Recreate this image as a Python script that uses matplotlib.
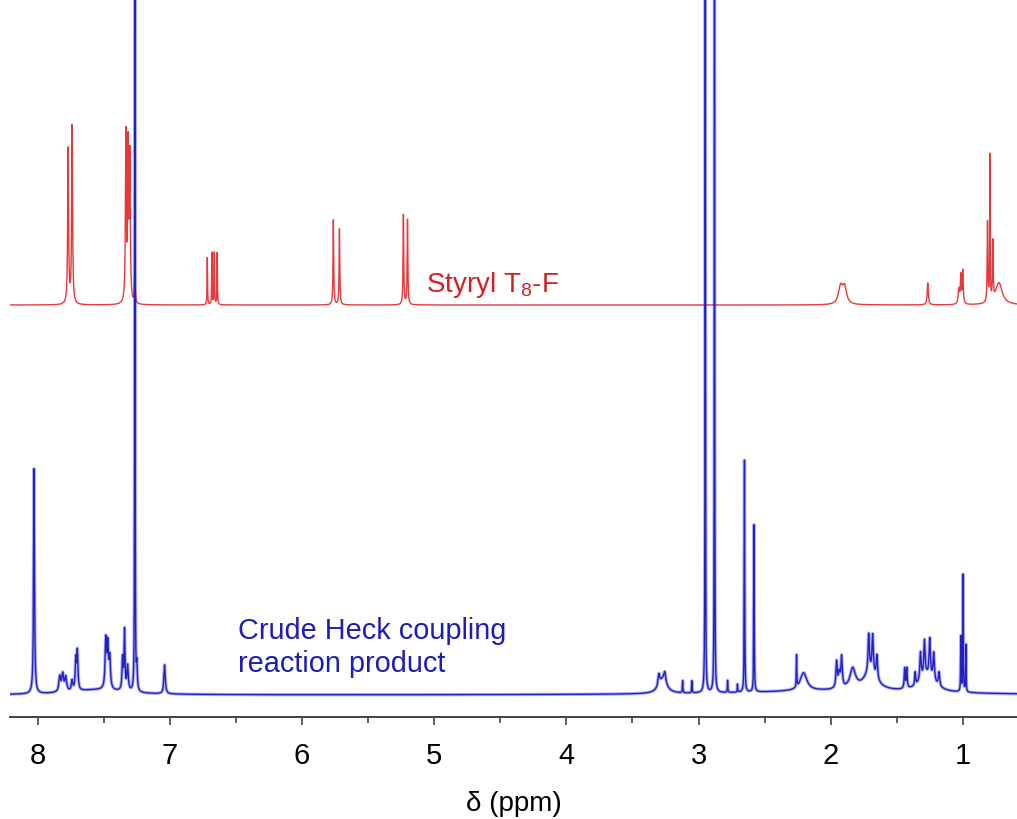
import matplotlib.pyplot as plt
import numpy as np

# 1H NMR: styryl T8-F (red, offset) vs. crude Heck coupling product (blue)

# peak tables: shift (ppm), height (arbitrary, ~px), half width (ppm)
red_ppm = [7.770, 7.740, 7.333, 7.316, 7.303, 7.265,
           6.717, 6.682, 6.664, 6.642, 5.763, 5.717, 5.233, 5.202,
           1.925, 1.895, 1.265, 1.030, 1.015, 1.000,
           0.813, 0.795, 0.773, 0.727]
red_height = [155, 178, 168, 152, 143, 35,
              47, 52, 52, 52, 85, 76, 90, 85,
              17, 17, 22, 15, 28, 33,
              80, 145, 58, 22]
red_width = [0.004, 0.004, 0.004, 0.004, 0.004, 0.003,
             0.002, 0.002, 0.002, 0.002, 0.003, 0.003, 0.003, 0.003,
             0.018, 0.018, 0.005, 0.006, 0.004, 0.004,
             0.003, 0.002, 0.003, 0.03]

blue_ppm = [8.028, 7.833, 7.811, 7.788, 7.740, 7.712, 7.700,
            7.485, 7.470, 7.455, 7.358, 7.343, 7.320, 7.265, 7.250, 7.040, 7.55,
            3.300, 3.270, 3.255, 3.120, 3.050, 2.949, 2.879, 2.780, 2.705,
            2.652, 2.580, 2.258, 2.205, 1.955, 1.935, 1.917, 1.833,
            1.712, 1.682, 1.650, 1.700, 1.440, 1.424, 1.360,
            1.320, 1.290, 1.250, 1.220, 1.180, 1.270,
            1.015, 0.998, 0.977, 2.0]
blue_height = [225, 15, 17, 14, 10, 30, 38,
               48, 42, 30, 32, 59, 25, 1500, 25, 29, 5,
               12, 14, 10, 12, 12, 1500, 1500, 12, 8,
               232, 167, 32, 18, 26, 14, 30, 20,
               38, 38, 24, 18, 20, 20, 13,
               28, 36, 38, 28, 14, 16,
               55, 117, 47, 4]
blue_width = [0.004, 0.008, 0.008, 0.008, 0.006, 0.005, 0.005,
              0.006, 0.006, 0.006, 0.005, 0.004, 0.006, 0.0012, 0.004, 0.006, 0.25,
              0.008, 0.035, 0.008, 0.002, 0.002, 0.0012, 0.0012, 0.002, 0.002,
              0.002, 0.002, 0.002, 0.03, 0.006, 0.008, 0.006, 0.025,
              0.006, 0.006, 0.006, 0.06, 0.004, 0.004, 0.004,
              0.006, 0.006, 0.006, 0.006, 0.006, 0.07,
              0.002, 0.002, 0.002, 0.8]

red_offset = 390
xlim = (8.21, 0.59)


def spectrum(x, ppm, height, width):
    y = np.zeros_like(x)
    for p, h, w in zip(ppm, height, width):
        y += h * w**2 / ((x - p)**2 + w**2)
    return y


plt.rcParams['font.family'] = ['Liberation Sans', 'DejaVu Sans']
plt.rcParams['mathtext.fontset'] = 'custom'
plt.rcParams['mathtext.rm'] = 'Liberation Sans'
plt.rcParams['mathtext.default'] = 'regular'

fig = plt.figure(figsize=(10.17, 8.19), dpi=100)
ax = fig.add_axes([10 / 1017, 1 - 717 / 819, 1 - 10 / 1017, 717 / 819])

x = np.linspace(xlim[1], xlim[0], 60000)
y_red = spectrum(x, red_ppm, red_height, red_width) + red_offset
y_blue = spectrum(x, blue_ppm, blue_height, blue_width)

ax.plot(x, y_red, color='#e5393b', lw=1.0, zorder=2)
ax.plot(x, y_blue, color='#1818e8', lw=2.4, alpha=0.35, zorder=3)
ax.plot(x, y_blue, color='#2222c0', lw=1.0, zorder=4)

ax.text(5.06, 403, r'Styryl T$_{8}$-F', color='#d42024', fontsize=20, va='baseline')
ax.text(6.485, 23, 'Crude Heck coupling\nreaction product', color='#1e1eb4',
        fontsize=20.8, va='baseline', linespacing=1.22)

ax.set_xlim(xlim)
ax.set_ylim(-22, 695)
for s in ('left', 'right', 'top'):
    ax.spines[s].set_visible(False)
ax.spines['bottom'].set_color('#444444')
ax.spines['bottom'].set_linewidth(1.4)
ax.set_yticks([])
ax.set_xticks(range(1, 9))
ax.set_xticks(np.arange(1.5, 8.5, 1.0), minor=True)
ax.tick_params(axis='x', which='major', direction='out', length=6, width=1.2,
               color='#444444', labelsize=21, pad=12)
ax.tick_params(axis='x', which='minor', direction='out', length=4, width=1.2,
               color='#444444')
ax.set_xlabel('δ (ppm)', fontsize=20, labelpad=15)
ax.patch.set_visible(False)

fig.savefig('out.png', dpi=100)
